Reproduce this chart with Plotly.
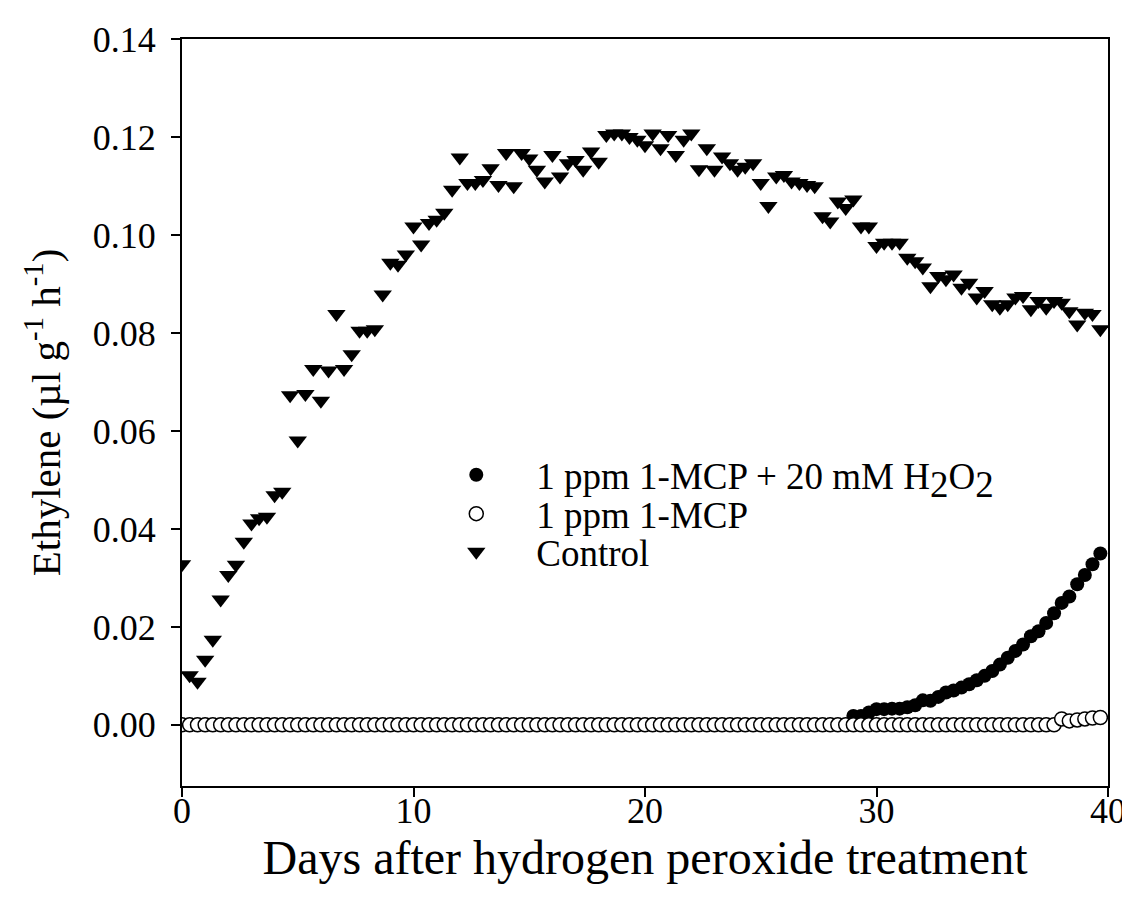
import plotly.graph_objects as go

# Sampling times (days after treatment), every 8 h
days = [0.0, 0.33, 0.67, 1.0, 1.33, 1.67, 2.0, 2.33, 2.67, 3.0, 3.33, 3.67, 4.0, 4.33, 4.67, 5.0, 5.33, 5.67, 6.0, 6.33,
        6.67, 7.0, 7.33, 7.67, 8.0, 8.33, 8.67, 9.0, 9.33, 9.67, 10.0, 10.33, 10.67, 11.0, 11.33, 11.67, 12.0, 12.33, 12.67, 13.0,
        13.33, 13.67, 14.0, 14.33, 14.67, 15.0, 15.33, 15.67, 16.0, 16.33, 16.67, 17.0, 17.33, 17.67, 18.0, 18.33, 18.67, 19.0, 19.33, 19.67,
        20.0, 20.33, 20.67, 21.0, 21.33, 21.67, 22.0, 22.33, 22.67, 23.0, 23.33, 23.67, 24.0, 24.33, 24.67, 25.0, 25.33, 25.67, 26.0, 26.33,
        26.67, 27.0, 27.33, 27.67, 28.0, 28.33, 28.67, 29.0, 29.33, 29.67, 30.0, 30.33, 30.67, 31.0, 31.33, 31.67, 32.0, 32.33, 32.67, 33.0,
        33.33, 33.67, 34.0, 34.33, 34.67, 35.0, 35.33, 35.67, 36.0, 36.33, 36.67, 37.0, 37.33, 37.67, 38.0, 38.33, 38.67, 39.0, 39.33, 39.67]

control = [0.0328, 0.0101, 0.0088, 0.0133, 0.0174, 0.0256, 0.0306, 0.0327, 0.0374, 0.0411,
           0.0422, 0.0425, 0.0469, 0.0476, 0.0673, 0.0581, 0.0676, 0.0727, 0.0662, 0.0724,
           0.0839, 0.0727, 0.0757, 0.0805, 0.0805, 0.0808, 0.0879, 0.0944, 0.0940, 0.0961,
           0.1018, 0.0981, 0.1025, 0.1032, 0.1046, 0.1093, 0.1159, 0.1107, 0.1107, 0.1113,
           0.1137, 0.1103, 0.1168, 0.1100, 0.1168, 0.1157, 0.1134, 0.1110, 0.1164, 0.1120,
           0.1147, 0.1154, 0.1134, 0.1171, 0.1150, 0.1205, 0.1208, 0.1208, 0.1201, 0.1195,
           0.1184, 0.1208, 0.1178, 0.1205, 0.1164, 0.1195, 0.1208, 0.1135, 0.1178, 0.1134,
           0.1161, 0.1147, 0.1134, 0.1140, 0.1147, 0.1107, 0.1060, 0.1120, 0.1123, 0.1110,
           0.1107, 0.1103, 0.1100, 0.1039, 0.1028, 0.1069, 0.1056, 0.1073, 0.1018, 0.1018,
           0.0978, 0.0985, 0.0985, 0.0985, 0.0954, 0.0947, 0.0934, 0.0896, 0.0917, 0.0910,
           0.0920, 0.0893, 0.0903, 0.0873, 0.0886, 0.0859, 0.0852, 0.0859, 0.0873, 0.0876,
           0.0849, 0.0866, 0.0852, 0.0866, 0.0862, 0.0845, 0.0818, 0.0842, 0.0839, 0.0808]

mcp = [0.0] * 114 + [0.0012, 0.0008, 0.0010, 0.0012, 0.0014, 0.0015]

mcp_h2o2 = [0.0] * 87 + [0.0018, 0.0018, 0.0025, 0.0032, 0.0032, 0.0033, 0.0033, 0.0036, 0.0040,
                         0.0050, 0.0049, 0.0057, 0.0066, 0.0070, 0.0076, 0.0083, 0.0091, 0.0100, 0.0110,
                         0.0123, 0.0137, 0.0151, 0.0164, 0.0181, 0.0191, 0.0208, 0.0228, 0.0249, 0.0262,
                         0.0287, 0.0306, 0.0328, 0.0350]

LEG_FS = 37
names = ["1 ppm 1-MCP + 20 mM H<sub><span style='font-size:%dpx'>2</span></sub>O<sub><span style='font-size:%dpx'>2</span></sub>" % (LEG_FS, LEG_FS),
         "1 ppm 1-MCP", "Control"]

FONT = "Liberation Serif, Times New Roman, serif"
TICK_FS = 36

fig = go.Figure()
fig.add_trace(go.Scatter(x=days, y=mcp_h2o2, mode="markers", name=names[0], legend="legend",
                         marker=dict(symbol="circle", size=14, color="black", line=dict(width=0))))
fig.add_trace(go.Scatter(x=days, y=mcp, mode="markers", name=names[1], legend="legend2",
                         marker=dict(symbol="circle", size=14, color="white", line=dict(width=1.5, color="black"))))
fig.add_trace(go.Scatter(x=days, y=control, mode="markers", name=names[2], legend="legend3",
                         marker=dict(symbol="triangle-down", size=16, color="black", line=dict(width=0))))

leg_common = dict(xanchor="left", yanchor="middle", bgcolor="rgba(0,0,0,0)",
                  font=dict(family=FONT, size=LEG_FS, color="black"), itemwidth=110)
fig.update_layout(
    width=1130, height=901,
    margin=dict(l=174, r=23, t=30, b=123),
    paper_bgcolor="white", plot_bgcolor="white",
    font=dict(family=FONT, size=TICK_FS, color="black"),
    showlegend=True,
    legend=dict(x=0.253, y=0.416, **leg_common),
    legend2=dict(x=0.253, y=0.364, **leg_common),
    legend3=dict(x=0.253, y=0.313, **leg_common),
)
fig.update_xaxes(range=[0, 40], tickmode="linear", tick0=0, dtick=10,
                 showline=True, linecolor="black", linewidth=2, mirror=True,
                 ticks="outside", ticklen=9, tickwidth=2, tickcolor="black",
                 showgrid=False, zeroline=False, ticklabelstandoff=-17,
                 title=dict(text="Days after hydrogen peroxide treatment", font=dict(family=FONT, size=48), standoff=7),
                 tickfont=dict(family=FONT, size=TICK_FS))
fig.update_yaxes(range=[-0.0125, 0.1401], tickmode="linear", tick0=0, dtick=0.02, tickformat=".2f",
                 showline=True, linecolor="black", linewidth=2, mirror=True,
                 ticks="outside", ticklen=9, tickwidth=2, tickcolor="black",
                 showgrid=False, zeroline=False, ticklabelstandoff=8,
                 title=dict(text="\u00a0\u00a0\u00a0\u00a0\u00a0\u00a0Ethylene (µl g<sup>-1</sup> h<sup>-1</sup>)", font=dict(family=FONT, size=41), standoff=19),
                 tickfont=dict(family=FONT, size=TICK_FS))

fig.write_html("out.html")
